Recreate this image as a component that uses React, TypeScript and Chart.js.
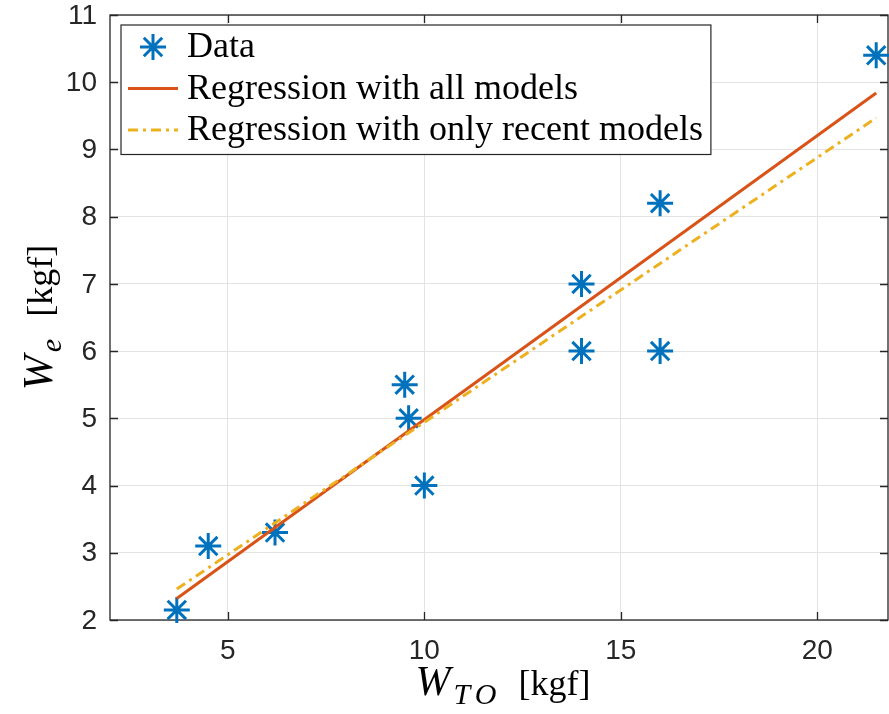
import React, { useEffect, useRef } from "react";
import { Chart, registerables } from "chart.js";

Chart.register(...registerables);

// ---- data ----
const dataX = [3.7, 4.5, 6.2, 9.5, 9.6, 10, 14, 14, 16, 16, 21.5];
const dataY = [2.15, 3.1, 3.3, 5.5, 5.0, 4.0, 7.0, 6.0, 8.2, 6.0, 10.4];
const regAllX = [3.7, 21.5];
const regAllY = [2.32, 9.84];
const regRecentX = [3.7, 21.5];
const regRecentY = [2.46, 9.47];
const xTicks = [5, 10, 15, 20];
const yTicks = [2, 3, 4, 5, 6, 7, 8, 9, 10, 11];
const legendLabels = ["Data", "Regression with all models", "Regression with only recent models"];
const xTitleMain = "W";
const xTitleSub = "TO";
const yTitleMain = "W";
const yTitleSub = "e";
const unitText = "[kgf]";

const AX = "#262626";
const SERIF = "'Liberation Serif', 'DejaVu Serif', serif";
const SANS = "'Liberation Sans', Arial, sans-serif";

const pts = (xs: number[], ys: number[]) => xs.map((x, i) => ({ x, y: ys[i] }));

function drawStar(ctx: CanvasRenderingContext2D, cx: number, cy: number, r: number) {
  const d = r * Math.SQRT1_2;
  ctx.beginPath();
  ctx.moveTo(cx - r, cy); ctx.lineTo(cx + r, cy);
  ctx.moveTo(cx, cy - r); ctx.lineTo(cx, cy + r);
  ctx.moveTo(cx - d, cy - d); ctx.lineTo(cx + d, cy + d);
  ctx.moveTo(cx - d, cy + d); ctx.lineTo(cx + d, cy - d);
  ctx.stroke();
}

const frameAndLegend = {
  id: "frameAndLegend",
  beforeDatasetsDraw(chart: any) {
    const ctx = chart.ctx as CanvasRenderingContext2D;
    const { left, right, top, bottom } = chart.chartArea;
    const xs = chart.scales.x;
    const ys = chart.scales.y;
    ctx.save();
    ctx.strokeStyle = AX;
    ctx.lineWidth = 1.3;
    ctx.setLineDash([]);
    ctx.strokeRect(left, top, right - left, bottom - top);
    const tl = 8;
    ctx.beginPath();
    xTicks.forEach((v) => {
      const px = Math.round(xs.getPixelForValue(v)) + 0.5;
      ctx.moveTo(px, bottom); ctx.lineTo(px, bottom - tl);
      ctx.moveTo(px, top); ctx.lineTo(px, top + tl);
    });
    yTicks.forEach((v) => {
      const py = Math.round(ys.getPixelForValue(v)) + 0.5;
      ctx.moveTo(left, py); ctx.lineTo(left + tl, py);
      ctx.moveTo(right, py); ctx.lineTo(right - tl, py);
    });
    ctx.stroke();

    // tick labels
    ctx.fillStyle = AX;
    ctx.font = `28px ${SANS}`;
    ctx.textBaseline = "middle";
    ctx.textAlign = "center";
    xTicks.forEach((v) => {
      ctx.fillText(String(v), xs.getPixelForValue(v), bottom + 31);
    });
    ctx.textAlign = "right";
    yTicks.forEach((v) => {
      ctx.fillText(String(v), left - 13, ys.getPixelForValue(v) + 1);
    });
    ctx.restore();
  },
  afterDraw(chart: any) {
    const ctx = chart.ctx as CanvasRenderingContext2D;
    const { left, right, top, bottom } = chart.chartArea;
    ctx.save();
    // ---- legend ----
    const font = `36px ${SERIF}`;
    ctx.font = font;
    const textW = Math.max(...legendLabels.map((t) => ctx.measureText(t).width));
    const lx = left + 11;
    const ly = top + 10;
    const textX = lx + 66;
    const lw = textX - lx + textW + 8;
    const rowH = 41.5;
    const lh = rowH * legendLabels.length + 5;
    ctx.fillStyle = "#ffffff";
    ctx.fillRect(lx, ly, lw, lh);
    ctx.strokeStyle = AX;
    ctx.lineWidth = 1.2;
    ctx.strokeRect(lx, ly, lw, lh);
    const ds = chart.data.datasets;
    legendLabels.forEach((label, i) => {
      const cy = ly + 22 + i * rowH;
      const d = ds[i];
      ctx.strokeStyle = d.borderColor;
      ctx.lineWidth = d.borderWidth;
      if (i === 0) {
        ctx.setLineDash([]);
        drawStar(ctx, lx + 32, cy, d.pointRadius);
      } else {
        ctx.setLineDash(d.borderDash || []);
        ctx.beginPath();
        ctx.moveTo(lx + 7, cy);
        ctx.lineTo(lx + 57, cy);
        ctx.stroke();
      }
      ctx.setLineDash([]);
      ctx.fillStyle = "#000000";
      ctx.font = font;
      ctx.textBaseline = "middle";
      ctx.textAlign = "left";
      ctx.fillText(label, textX, cy + 1);
    });

    // ---- axis titles (math style) ----
    const parts = (main: string, sub: string) => [
      { t: main, f: `italic 42px ${SERIF}`, dy: 0, ls: 0, gap: 3 },
      { t: sub, f: `italic 30px ${SERIF}`, dy: 9, ls: 5, gap: 17 },
      { t: unitText, f: `36px ${SERIF}`, dy: 0, ls: 0, gap: 0 },
    ];
    const c2 = ctx as any;
    const widthOf = (s: any) => {
      ctx.font = s.f;
      c2.letterSpacing = `${s.ls}px`;
      const w = ctx.measureText(s.t).width;
      c2.letterSpacing = "0px";
      return w;
    };
    const drawTitle = (segs: any[], cx: number, baseY: number) => {
      let total = 0;
      segs.forEach((s) => { total += widthOf(s) + s.gap; });
      let x = cx - total / 2;
      ctx.fillStyle = "#000000";
      ctx.textAlign = "left";
      ctx.textBaseline = "alphabetic";
      segs.forEach((s) => {
        const w = widthOf(s);
        ctx.font = s.f;
        c2.letterSpacing = `${s.ls}px`;
        ctx.fillText(s.t, x, baseY + s.dy);
        c2.letterSpacing = "0px";
        x += w + s.gap;
      });
    };
    drawTitle(parts(xTitleMain, xTitleSub), (left + right) / 2 + 4, bottom + 75);
    ctx.save();
    ctx.translate(52, (top + bottom) / 2);
    ctx.rotate(-Math.PI / 2);
    drawTitle(parts(yTitleMain, yTitleSub), 0, 0);
    ctx.restore();
    ctx.restore();
  },
};

export default function App() {
  const ref = useRef<HTMLCanvasElement | null>(null);
  useEffect(() => {
    if (!ref.current) return;
    const chart = new Chart(ref.current, {
      type: "scatter",
      data: {
        datasets: [
          {
            label: legendLabels[0],
            data: pts(dataX, dataY),
            showLine: false,
            pointStyle: "star",
            pointRadius: 13,
            borderWidth: 3,
            borderColor: "#0072BD",
            backgroundColor: "#0072BD",
            clip: false,
            order: 3,
          } as any,
          {
            label: legendLabels[1],
            data: pts(regAllX, regAllY),
            showLine: true,
            pointRadius: 0,
            borderWidth: 3,
            borderColor: "#D95319",
            backgroundColor: "#D95319",
            order: 2,
          },
          {
            label: legendLabels[2],
            data: pts(regRecentX, regRecentY),
            showLine: true,
            pointRadius: 0,
            borderWidth: 3,
            borderDash: [10, 5, 3, 5],
            borderColor: "#EDB120",
            backgroundColor: "#EDB120",
            order: 1,
          },
        ],
      },
      options: {
        animation: false,
        responsive: false,
        devicePixelRatio: 1,
        layout: { autoPadding: false, padding: { left: 0, top: 15, right: 1, bottom: 0 } },
        plugins: { legend: { display: false }, tooltip: { enabled: false } },
        scales: {
          x: {
            type: "linear",
            min: 2,
            max: 21.8,
            afterBuildTicks: (s: any) => { s.ticks = xTicks.map((v) => ({ value: v })); },
            afterFit: (s: any) => { s.height = 94; s.paddingLeft = 0; s.paddingRight = 0; },
            grid: { color: "#e3e3e3", lineWidth: 1, drawTicks: false },
            border: { display: false },
            ticks: { display: false },
          },
          y: {
            type: "linear",
            min: 2,
            max: 11,
            afterBuildTicks: (s: any) => { s.ticks = yTicks.map((v) => ({ value: v })); },
            afterFit: (s: any) => { s.width = 110; s.paddingTop = 0; s.paddingBottom = 0; },
            grid: { color: "#e3e3e3", lineWidth: 1, drawTicks: false },
            border: { display: false },
            ticks: { display: false },
          },
        },
      },
      plugins: [frameAndLegend],
    });
    return () => chart.destroy();
  }, []);
  return (
    <div style={{ position: "absolute", left: 0, top: 0, width: 889, height: 714, background: "#fff" }}>
      <canvas ref={ref} width={889} height={714} style={{ width: 889, height: 714, display: "block" }} />
    </div>
  );
}
